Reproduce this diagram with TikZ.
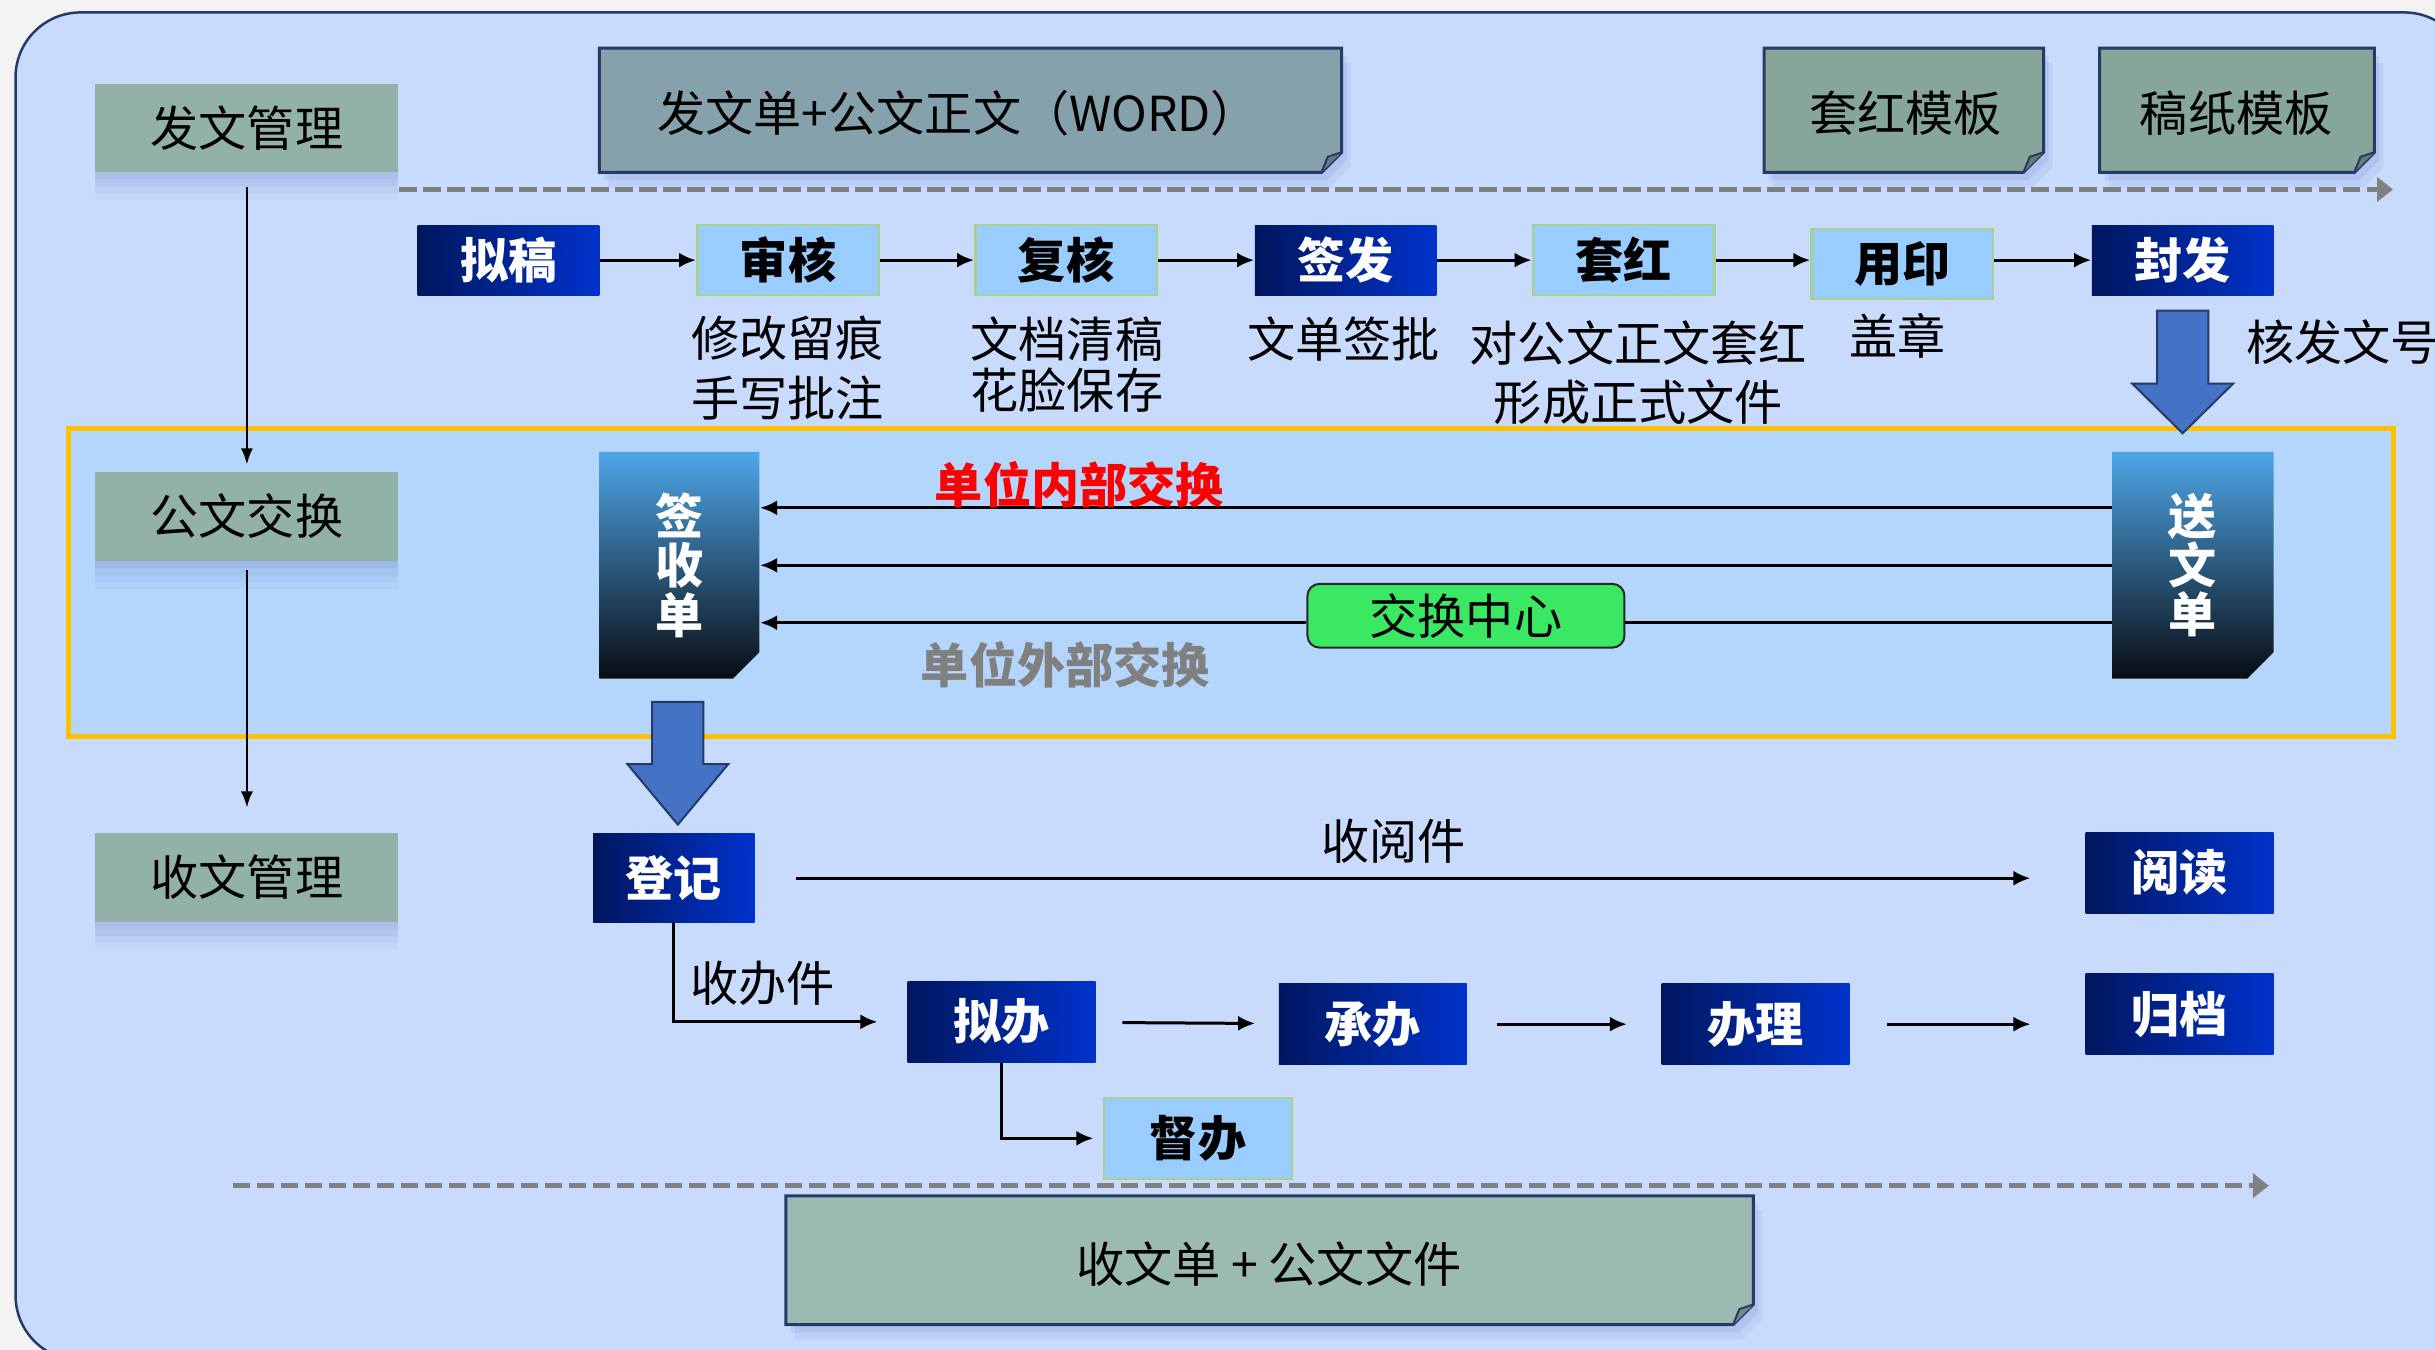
\documentclass[tikz,border=0pt]{standalone}
\usepackage{fontspec}
\setmainfont{Noto Sans CJK SC}
\usetikzlibrary{shadows,arrows.meta}

\definecolor{outbg}{RGB}{243,243,243}
\definecolor{panelbg}{RGB}{201,219,252}
\definecolor{panelln}{RGB}{38,58,104}
\definecolor{xchgbg}{RGB}{180,213,252}
\definecolor{xchgln}{RGB}{255,192,0}
\definecolor{leftbg}{RGB}{146,178,167}
\definecolor{docbg}{RGB}{133,161,172}
\definecolor{tplbg}{RGB}{134,166,153}
\definecolor{recbg}{RGB}{155,186,178}
\definecolor{navyl}{RGB}{0,22,94}
\definecolor{navyr}{RGB}{0,51,204}
\definecolor{lightbx}{RGB}{153,204,255}
\definecolor{lightln}{RGB}{169,209,142}
\definecolor{bigarr}{RGB}{68,114,196}
\definecolor{hubbg}{RGB}{59,232,99}
\definecolor{dashgr}{RGB}{128,128,128}
\definecolor{bartop}{RGB}{78,166,232}
\definecolor{barbot}{RGB}{8,12,18}
\definecolor{shadowc}{RGB}{110,130,200}

\def\upx{0.1553mm}
\newcommand\fs{\fontsize{13.7pt}{16.8pt}\selectfont}

\newcommand\docbox[5]{%
  \filldraw[fill=#5, draw=panelln, line width=0.3mm,
    drop shadow={shadow xshift=0.5mm, shadow yshift=-0.8mm, opacity=.15, fill=shadowc},
    drop shadow={shadow xshift=0.9mm, shadow yshift=-1.5mm, opacity=.12, fill=shadowc}]
    (#1,#2) -- (#3,#2) -- (#3,#4-13) -- (#3-13,#4) -- (#1,#4) -- cycle;
  \filldraw[fill=#5!75!black, draw=panelln, line width=0.2mm]
    (#3-13,#4) -- (#3-9,#4-10) -- (#3,#4-13);
}

\tikzset{
  lbox/.style={fill=leftbg, minimum width=30.3mm, minimum height=8.85mm, inner sep=0pt,
    drop shadow={shadow xshift=0mm, shadow yshift=-0.7mm, opacity=.1, fill=shadowc},
    drop shadow={shadow xshift=0mm, shadow yshift=-1.4mm, opacity=.1, fill=shadowc},
    drop shadow={shadow xshift=0mm, shadow yshift=-2.1mm, opacity=.08, fill=shadowc},
    drop shadow={shadow xshift=0mm, shadow yshift=-2.8mm, opacity=.06, fill=shadowc}},
  dbox/.style={left color=navyl, right color=navyr, text=white, font=\fs\bfseries,
    minimum width=18.17mm, minimum height=6.99mm, inner sep=0pt},
  qbox/.style={fill=lightbx, draw=lightln, line width=0.25mm, font=\fs\bfseries,
    minimum width=18.17mm, minimum height=6.99mm, inner sep=0pt},
  bw/.style={minimum width=18.8mm, minimum height=8.1mm},
  vbar/.style={text=white, align=center, inner sep=0pt, minimum width=16mm,
    minimum height=22.67mm, font=\fontsize{13.7pt}{14pt}\selectfont\bfseries},
  lbl/.style={align=center, inner sep=0pt},
  hub/.style={fill=hubbg, draw=black!85, line width=0.2mm, rounded corners=1.2mm,
    minimum width=31.7mm, minimum height=6.37mm, inner sep=0pt},
  flow/.style={-{Latex[length=1.7mm,width=1.5mm]}, line width=0.3mm},
  thinarr/.style={-{Latex[length=1.6mm,width=1.2mm]}, line width=0.2mm},
  hline/.style={line width=0.3mm},
  gline/.style={draw=dashgr, line width=0.55mm, dash pattern=on 1.75mm off 0.65mm,
    -{Triangle[length=1.6mm,width=2.4mm]}},
  bigarrow/.style={fill=bigarr, draw=panelln, line width=0.2mm}
}

\begin{document}
\begin{tikzpicture}[x=\upx, y=-\upx, font=\fs]
  \useasboundingbox (0,0) rectangle (1568,869);
  \fill[outbg] (0,0) rectangle (1568,869);
  \filldraw[fill=panelbg, draw=panelln, line width=0.25mm, rounded corners=6.5mm] (10,8) rectangle (1590,876);
  \filldraw[fill=xchgbg, draw=xchgln, line width=0.5mm] (44,276) rectangle (1541,474);

  \node[lbox] (FW) at (159,82.5) {发文管理};
  \node[lbox] (GW) at (159,332.5) {公文交换};
  \node[lbox] (SW) at (159,565) {收文管理};
  \draw[thinarr, shorten <=1.4mm, shorten >=0.7mm] (FW) -- (GW);
  \draw[thinarr, shorten <=0.9mm, shorten >=2.5mm] (GW) -- (SW);

  \docbox{386}{31}{864}{111}{docbg}
  \docbox{1136}{31}{1316}{111}{tplbg}
  \docbox{1352}{31}{1529}{111}{tplbg}
  \node (D1) at (617,73) {发文单+公文正文（WORD）};
  \node (D2) at (1227,73) {套红模板};
  \node (D3) at (1440,73) {稿纸模板};

  \coordinate (P1) at (257,122);
  \coordinate (P2) at (1541,122);
  \draw[gline] (P1) -- (P2);

  \node[dbox] (NG) at (327.5,167.5) {拟稿};
  \node[qbox] (SH) at (507.5,167.5) {审核};
  \node[qbox] (FH) at (686.5,167.5) {复核};
  \node[dbox] (QF) at (866.5,167.5) {签发};
  \node[qbox] (TH) at (1045.5,167.5) {套红};
  \node[qbox] (YY) at (1225,170) {用印};
  \node[dbox] (FF) at (1405.5,167.5) {封发};
  \draw[flow] (NG) -- (SH);
  \draw[flow] (SH) -- (FH);
  \draw[flow] (FH) -- (QF);
  \draw[flow] (QF) -- (TH);
  \draw[flow] (TH) -- (TH -| YY.west);
  \draw[flow] (YY.east |- FF) -- (FF);

  \node[lbl] (L1) at (507,237) {修改留痕\\手写批注};
  \node[lbl] (L2) at (687,234.5) {文档清稿\\[-2.3pt]花脸保存};
  \node[lbl] (L3) at (865,218) {文单签批};
  \node[lbl] (L4) at (1055,240) {对公文正文套红\\形成正式文件};
  \node[lbl] (L5) at (1222,216) {盖章};
  \node[lbl, anchor=west] (L6) at (1446,220) {核发文号};

  \filldraw[bigarrow] (1389,200) -- (1422,200) -- (1422,247) -- (1438,247) -- (1405.5,279)
    -- (1373,247) -- (1389,247) -- cycle;

  \shade[top color=bartop, bottom color=barbot] (386,291) -- (489,291) -- (489,420)
    -- (472,437) -- (386,437) -- cycle;
  \shade[top color=bartop, bottom color=barbot] (1360,291) -- (1464,291) -- (1464,420)
    -- (1447,437) -- (1360,437) -- cycle;
  \node[vbar] (QS) at (437.5,364) {签\\收\\单};
  \node[vbar] (SS) at (1412,364) {送\\文\\单};
  \node[hub] (JH) at (944,396.5) {交换中心};

  \coordinate (H1) at (0,327);
  \coordinate (H2) at (0,364);
  \coordinate (H3) at (0,401);
  \draw[flow] (SS.west |- H1) -- (QS.east |- H1);
  \draw[flow] (SS.west |- H2) -- (QS.east |- H2);
  \draw[hline] (SS.west |- H3) -- (JH.east |- H3);
  \draw[flow] (JH.west |- H3) -- (QS.east |- H3);
  \node[red, font=\fs\bfseries] (IN) at (695,312) {单位内部交换};
  \node[dashgr, font=\fs\bfseries] (EX) at (686,428) {单位外部交换};

  \filldraw[bigarrow] (420,452) -- (453,452) -- (453,492) -- (469,492) -- (436.5,531)
    -- (404,492) -- (420,492) -- cycle;

  \node[dbox, minimum width=16.15mm, minimum height=8.85mm] (DJ) at (434,565.5) {登记};
  \node[dbox, bw] (YD) at (1403.5,562) {阅读};
  \node[dbox, bw] (NB) at (645,658) {拟办};
  \node[dbox, bw] (CB) at (884,659.5) {承办};
  \node[dbox, bw] (BL) at (1130.5,659.5) {办理};
  \node[dbox, bw] (GD) at (1403.5,653) {归档};
  \node[qbox, bw] (DB) at (771.5,733) {督办};

  \draw[flow, shorten <=4.04mm, shorten >=5.44mm] (DJ.east) -- node[pos=.48, yshift=3.7mm]{收阅件} (DJ.east -| YD.west);
  \draw[flow, shorten >=2.95mm] (DJ.south) |- node[pos=.69, yshift=3.9mm]{收办件} (NB.west);
  \draw[flow, shorten >=0.95mm] (NB.south) |- (DB.west);
  \draw[flow, shorten <=2.6mm, shorten >=2.3mm] (NB) -- (CB);
  \draw[flow, shorten <=2.95mm, shorten >=3.4mm] (CB) -- (BL);
  \draw[flow, shorten <=3.7mm, shorten >=5.44mm] (BL.east) -- (BL.east -| GD.west);

  \coordinate (P3) at (150,763.5);
  \coordinate (P4) at (1461,763.5);
  \draw[gline] (P3) -- (P4);

  \docbox{506}{770}{1129}{853}{recbg}
  \node (D4) at (817,814) {收文单 + 公文文件};
\end{tikzpicture}
\end{document}
